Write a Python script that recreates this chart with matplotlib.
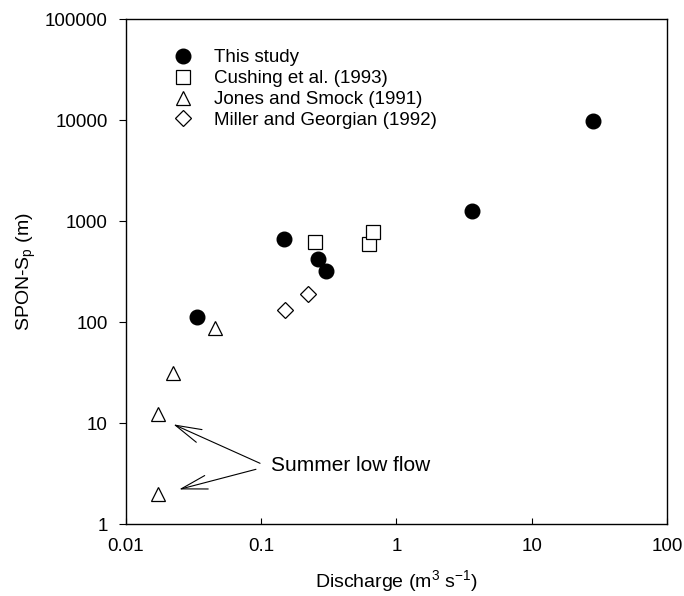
import matplotlib
matplotlib.use("Agg")
import matplotlib.pyplot as plt

# data
this_q = [0.0334, 0.148, 0.261, 0.300, 3.6, 28.5]
this_s = [113, 670, 420, 320, 1250, 9700]

cushing_q = [0.249, 0.63, 0.667]
cushing_s = [620, 590, 780]

jones_q = [0.0173, 0.0173, 0.0224, 0.0455]
jones_s = [2.0, 12.2, 31, 87]

miller_q = [0.150, 0.220]
miller_s = [131, 188]

x_ticks = [0.01, 0.1, 1, 10, 100]
x_labels = ["0.01", "0.1", "1", "10", "100"]
y_ticks = [1, 10, 100, 1000, 10000, 100000]
y_labels = ["1", "10", "100", "1000", "10000", "100000"]

# annotation: text anchor, arrow tails and tips
note_text = "Summer low flow"
note_pos = (0.119, 3.37)
arrow_tips = [(0.0224, 9.7), (0.0247, 2.2)]
arrow_tails = [(0.098, 3.99), (0.0914, 3.48)]

plt.rcParams["font.family"] = ["Liberation Sans", "DejaVu Sans"]

fig = plt.figure(figsize=(6.84, 5.96), dpi=100)
ax = fig.add_axes([0.1842, 0.1208, 0.7909, 0.8473])

ax.plot(this_q, this_s, "o", color="black", markersize=10.5,
        linestyle="none", label="This study")
ax.plot(cushing_q, cushing_s, "s", markerfacecolor="white", markeredgecolor="black",
        markersize=9.6, markeredgewidth=0.9, linestyle="none",
        label="Cushing et al. (1993)")
ax.plot(jones_q, jones_s, "^", markerfacecolor="white", markeredgecolor="black",
        markersize=10, markeredgewidth=0.9, linestyle="none",
        label="Jones and Smock (1991)")
ax.plot(miller_q, miller_s, "D", markerfacecolor="white", markeredgecolor="black",
        markersize=8.3, markeredgewidth=0.9, linestyle="none",
        label="Miller and Georgian (1992)")

ax.set_xscale("log")
ax.set_yscale("log")
ax.set_xlim(0.01, 100)
ax.set_ylim(1, 100000)

ax.set_xticks(x_ticks, x_labels)
ax.set_yticks(y_ticks, y_labels)
ax.minorticks_off()
ax.tick_params(axis="x", direction="in", length=4, pad=10, labelsize=13.5)
ax.tick_params(axis="y", direction="out", length=5, pad=8, labelsize=13.5)

for s in ax.spines.values():
    s.set_linewidth(1.0)

ax.set_xlabel("Discharge (m$^\\mathregular{3}$ s$^\\mathregular{-1}$)", fontsize=14, labelpad=10)
ax.set_ylabel("SPON-S$_\\mathregular{p}$ (m)", fontsize=14, labelpad=5)

# summer low flow note with two arrows
ax.text(note_pos[0], note_pos[1], note_text, fontsize=15, ha="left", va="baseline")
for tip, tail in zip(arrow_tips, arrow_tails):
    ax.annotate("", xy=tip, xytext=tail,
                arrowprops=dict(arrowstyle="->,head_length=0.94,head_width=0.25",
                                mutation_scale=20, lw=0.8, color="black",
                                shrinkA=0, shrinkB=0))

ax.legend(loc="upper left", bbox_to_anchor=(0.074, 0.955), frameon=False,
          fontsize=13.5, numpoints=1, handlelength=1.0, handletextpad=1.16,
          labelspacing=0.2, borderpad=0.4, borderaxespad=0)

fig.savefig("out.png", dpi=100)
